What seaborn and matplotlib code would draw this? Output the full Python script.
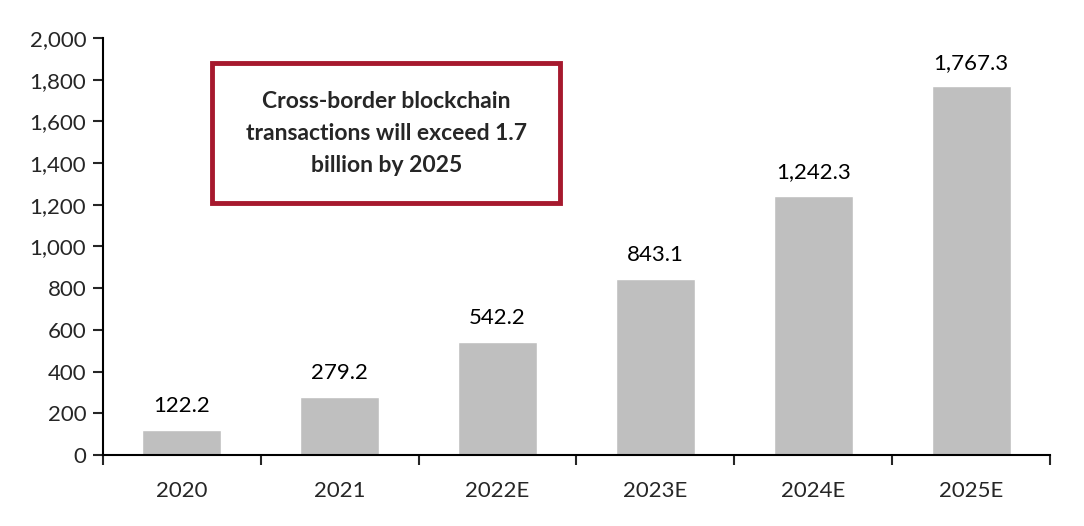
import matplotlib
matplotlib.use("Agg")
import matplotlib.pyplot as plt
import matplotlib.ticker as mticker
from matplotlib.patches import Rectangle
import seaborn as sns
import pandas as pd

# Cross-border blockchain transactions (millions)
years = ["2020", "2021", "2022E", "2023E", "2024E", "2025E"]
transactions = [122.2, 279.2, 542.2, 843.1, 1242.3, 1767.3]
note = "Cross-border blockchain\ntransactions will exceed 1.7\nbillion by 2025"

df = pd.DataFrame({"Year": years, "Transactions": transactions})

sns.set_style("white")
plt.rcParams['font.family'] = ['Lato', 'DejaVu Sans']

fig = plt.figure(figsize=(10.84, 5.26), dpi=100)
ax = fig.add_axes([0.095, 0.135, 0.8736, 0.7928])

bars = sns.barplot(data=df, x="Year", y="Transactions", color="#BFBFBF",
                   width=0.5, saturation=1, ax=ax)
for i in bars.containers:
    bars.bar_label(i, labels=[f"{v:,.1f}" for v in transactions],
                   padding=10, fontsize=16, color="black")

ax.set_xlim(-0.5, len(years) - 0.5)
ax.set_ylim(0, 2000)
ax.set_yticks(range(0, 2001, 200))
ax.yaxis.set_major_formatter(mticker.FuncFormatter(lambda v, p: f"{v:,.0f}"))
ax.set_xlabel("")
ax.set_ylabel("")

# tick marks sit between categories
ax.set_xticks([x - 0.5 for x in range(len(years) + 1)], minor=True)
ax.tick_params(axis="x", which="major", length=0, pad=19, labelsize=16)
ax.tick_params(axis="x", which="minor", length=7, width=1.5, direction="out", bottom=True)
ax.tick_params(axis="y", length=7, width=1.5, direction="out", left=True, labelsize=16, pad=5)

for side in ["top", "right"]:
    ax.spines[side].set_visible(False)
for side in ["left", "bottom"]:
    ax.spines[side].set_color("black")
    ax.spines[side].set_linewidth(1.5)

# callout box
box = Rectangle((0.115, 0.604), 0.3676, 0.336, transform=ax.transAxes,
                facecolor="white", edgecolor="#A6192E", linewidth=3.5, zorder=5)
ax.add_patch(box)
ax.text(0.299, 0.772, note, transform=ax.transAxes, ha="center", va="center",
        fontsize=16.5, fontweight="bold", linespacing=1.65, zorder=6)

plt.savefig("out.png", dpi=100)
